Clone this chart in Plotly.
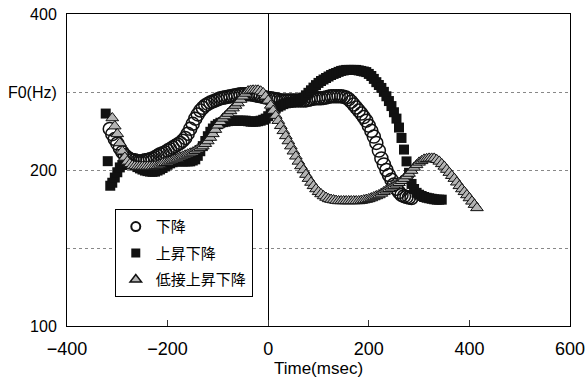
import plotly.graph_objects as go

# ---- data ----
t_circle = [-315, -310, -305, -300, -295, -290, -285, -280, -275, -270, -265, -260, -255, -250,
            -245, -240, -235, -230, -225, -220, -215, -210, -205, -200, -195, -190, -185, -180,
            -175, -170, -165, -160, -155, -150, -145, -140, -135, -130, -125, -120, -115, -110,
            -105, -100, -95, -90, -85, -80, -75, -70, -65, -60, -55, -50, -45, -40, -35, -30,
            -25, -20, -15, -10, -5, 0, 5, 10, 15, 20, 25, 30, 35, 40, 45, 50, 55, 60, 65, 70,
            75, 80, 85, 90, 95, 100, 105, 110, 115, 120, 125, 130, 135, 140, 145, 150, 155, 160,
            165, 170, 175, 180, 185, 190, 195, 200, 205, 210, 215, 220, 225, 230, 235, 240, 245,
            250, 255, 260, 265, 270, 275, 280, 285]
f_circle = [240, 234.5, 229.5, 225, 220.5, 216.5, 213.5, 211.5, 209.7, 209, 208.8, 208, 207.8,
            208.2, 208.8, 209.2, 209.7, 210.6, 211.6, 213, 214.5, 215.4, 216.4, 218, 219.4, 221,
            222.4, 224, 225.5, 227.8, 230.6, 235, 240.1, 245.6, 251.2, 256, 260.5, 263.6, 266.4,
            268.3, 270, 271.3, 272.5, 273.8, 275, 275.6, 276.2, 276.9, 277.5, 278.1, 278.7,
            279.4, 280, 280, 280, 280, 280, 279.4, 278.7, 278.1, 277.5, 276.8, 276, 275.5, 275,
            274.5, 274, 273.2, 272.5, 272.5, 272.5, 272.5, 272.5, 272.5, 272.5, 272.5, 272.5,
            272.5, 272.5, 273.2, 274, 274.5, 275, 275, 275, 275.5, 276, 276.8, 277.5, 277.5,
            277.5, 277.5, 277.5, 276.8, 276, 274, 271, 267.5, 264, 260.5, 257, 253, 249, 243.5,
            238, 232, 225.5, 218, 210.6, 205, 200, 195.6, 191.6, 187.6, 184, 181.3, 179, 178,
            177.4, 177, 176.6]

t_square = [-323, -319, -314, -310, -305, -300, -295, -290, -285, -280, -275, -270, -265, -260,
            -255, -250, -245, -240, -235, -230, -225, -220, -215, -210, -205, -200, -195, -190,
            -185, -180, -175, -170, -165, -160, -155, -150, -145, -140, -135, -130, -125, -120,
            -115, -110, -105, -100, -95, -90, -85, -80, -75, -70, -65, -60, -55, -50, -45, -40,
            -35, -30, -25, -20, -15, -10, -5, 0, 5, 10, 15, 20, 25, 30, 35, 40, 45, 50, 55, 60,
            65, 70, 75, 80, 85, 90, 95, 100, 105, 110, 115, 120, 125, 130, 135, 140, 145, 150,
            155, 160, 165, 170, 175, 180, 185, 190, 195, 200, 205, 210, 215, 220, 225, 230, 235,
            240, 245, 250, 255, 260, 265, 270, 275, 280, 285, 290, 295, 300, 305, 310, 315, 320,
            325, 330, 335, 340, 345]
f_square = [257, 208, 186.5, 189, 193.4, 198, 202.3, 204.5, 206, 206.2, 206, 205, 204, 202.6,
            201.4, 200.4, 199.5, 199, 198.6, 198.4, 198.6, 199.5, 200.5, 201.8, 203.2, 204.7,
            206, 207, 207.8, 207.8, 207.8, 207.8, 207.8, 207.8, 207.8, 208.6, 209.7, 213, 217.4,
            222.4, 227.5, 232.4, 237, 240.5, 243.4, 245.2, 246.7, 247.4, 247.9, 248.5, 249, 249,
            249, 249, 249, 249, 249, 248.4, 247.9, 247.9, 247.9, 248.4, 249, 250, 251.3, 254,
            257, 260, 263, 265, 266.4, 268, 269, 269.5, 270, 270.8, 271.5, 272.7, 274, 276,
            278.7, 281.8, 285, 288.4, 291.6, 294.5, 297, 299, 301, 303, 305, 306.5, 307.8, 309.3,
            310.6, 311.3, 312, 312, 312, 312, 312, 311.3, 310.6, 309.8, 309, 306.5, 303.7, 299.8,
            295.5, 291.8, 288, 283, 277.5, 271.7, 265.7, 258.5, 251.3, 241.5, 230.6, 219, 207.8,
            197.5, 188, 183.8, 180.7, 179.2, 178.2, 177.4, 176.8, 176.4, 176, 175.6, 175.3,
            175.3, 175.3]

t_triangle = [-310, -305, -300, -295, -290, -285, -280, -275, -270, -265, -260, -255, -250,
              -245, -240, -235, -230, -225, -220, -215, -210, -205, -200, -195, -190, -185,
              -180, -175, -170, -165, -160, -155, -150, -145, -140, -135, -130, -125, -120,
              -115, -110, -105, -100, -95, -90, -85, -80, -75, -70, -65, -60, -55, -50, -45,
              -40, -35, -30, -25, -20, -15, -10, -5, 0, 5, 10, 15, 20, 25, 30, 35, 40, 45, 50,
              55, 60, 65, 70, 75, 80, 85, 90, 95, 100, 105, 110, 115, 120, 125, 130, 135, 140,
              145, 150, 155, 160, 165, 170, 175, 180, 185, 190, 195, 200, 205, 210, 215, 220,
              225, 230, 235, 240, 245, 250, 255, 260, 265, 270, 275, 280, 285, 290, 295, 300,
              305, 310, 315, 320, 325, 330, 335, 340, 345, 350, 355, 360, 365, 370, 375, 380,
              385, 390, 395, 400, 405, 410, 415]
f_triangle = [252, 243, 234.8, 225.5, 217.4, 211.5, 207.8, 205.5, 204, 203.5, 203.2, 203.2,
              203.2, 203.2, 203.2, 203.2, 203.2, 203.6, 204, 205, 206, 206.5, 207, 208, 208.8,
              209.7, 210.6, 211.6, 212.6, 213.5, 214.5, 215.4, 216.4, 217.9, 219.4, 220.9, 222.4,
              224.8, 227.5, 231, 234.8, 239.3, 244, 247.8, 251.5, 254.2, 257, 260, 263.3, 266.3,
              269.3, 273.5, 277.5, 281, 284, 284.8, 285, 285, 285, 283.8, 281.7, 277.5, 272.5,
              266.5, 260.5, 254.7, 249, 243.4, 238, 232.7, 227.5, 222.4, 217.4, 212.6, 207.8,
              203.6, 200, 196, 192.5, 189.2, 186.4, 183.8, 181.5, 179.8, 178.2, 177, 175.9, 175.4,
              175, 174.6, 174.3, 174.3, 174.3, 174.3, 174.3, 174.3, 174.3, 174.3, 174.3, 174.6,
              175, 175.4, 175.9, 176.6, 177.4, 178.2, 179, 180.2, 181.5, 182.8, 184, 185.2, 186.4,
              187.7, 189, 190.7, 192.5, 194.7, 196.9, 199.5, 202.3, 204.6, 206.9, 208.3, 209.7,
              210.2, 210.6, 210.6, 210.6, 209.3, 207.8, 205.5, 203.2, 200.4, 197.7, 195, 192.5,
              189.4, 186.4, 183.8, 181.5, 179, 176.6, 174, 171.5, 169]

series_names = ["下降", "上昇下降", "低接上昇下降"]
x_ticks = [-400, -200, 0, 200, 400, 600]
y_ticks = [100, 141.42, 200, 282.84, 400]
y_ticktext = ["100", "", "200", "F0(Hz)", "400"]

FONT = "Liberation Sans, Arial, Noto Sans CJK JP, sans-serif"
JP = "Noto Sans CJK JP, sans-serif"

circle_style = dict(symbol="circle-open", color="#111111")
square_style = dict(symbol="square", color="#111111")
tri_style = dict(symbol="triangle-up", color="#b4b4b4")

fig = go.Figure()
# data traces
fig.add_trace(go.Scatter(x=t_circle, y=f_circle, mode="markers", name=series_names[0],
                         showlegend=False,
                         marker=dict(**circle_style, size=13, line=dict(width=1.5, color="#111111"))))
fig.add_trace(go.Scatter(x=t_square, y=f_square, mode="markers", name=series_names[1],
                         showlegend=False,
                         marker=dict(**square_style, size=10, line=dict(width=0))))
fig.add_trace(go.Scatter(x=t_triangle, y=f_triangle, mode="markers", name=series_names[2],
                         showlegend=False,
                         marker=dict(**tri_style, size=11, line=dict(width=1, color="#111111"))))
# legend entries (small symbols, as in the reference legend)
fig.add_trace(go.Scatter(x=[None], y=[None], mode="markers", name=series_names[0], legendgroup="a",
                         marker=dict(**circle_style, size=9, line=dict(width=2, color="#111111"))))
fig.add_trace(go.Scatter(x=[None], y=[None], mode="markers", name=series_names[1], legendgroup="b",
                         marker=dict(**square_style, size=9, line=dict(width=0))))
fig.add_trace(go.Scatter(x=[None], y=[None], mode="markers", name=series_names[2], legendgroup="c",
                         marker=dict(**tri_style, size=10, line=dict(width=1.5, color="#111111"))))

fig.update_layout(
    width=586, height=378,
    margin=dict(l=67, r=16, t=14, b=52),
    paper_bgcolor="white", plot_bgcolor="white",
    font=dict(family=FONT, color="black"),
    showlegend=True,
    legend=dict(x=0.095, y=0.374, xanchor="left", yanchor="top",
                bgcolor="white", bordercolor="black", borderwidth=1,
                font=dict(family=JP, size=15, color="black"),
                tracegroupgap=4, itemwidth=30),
    xaxis=dict(range=[-400, 600], tickvals=x_ticks, ticks="inside", ticklen=6,
               tickcolor="#333333", showline=True, linecolor="black", mirror=True,
               showgrid=False, zeroline=True, zerolinecolor="black", zerolinewidth=1,
               automargin=False, ticklabelstandoff=6,
               tickfont=dict(size=18), title=dict(text="Time(msec)", font=dict(size=17), standoff=0)),
    yaxis=dict(type="log", range=[2, 2.60206], tickvals=y_ticks, ticktext=y_ticktext,
               ticks="", showline=True, linecolor="black", mirror=True, automargin=False,
               showgrid=True, gridcolor="#888888", griddash="dot", gridwidth=1,
               zeroline=False, tickfont=dict(size=16), ticklabelstandoff=6),
)

fig.write_html("out.html", config={"displayModeBar": False},
               post_script="document.body.style.margin='0px';")
